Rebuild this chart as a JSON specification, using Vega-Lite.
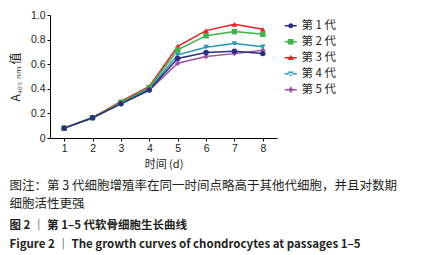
{
  "$schema": "https://vega.github.io/schema/vega-lite/v6.json",
  "autosize": {"type": "none"},
  "width": 227,
  "height": 123,
  "padding": {"left": 50, "top": 15, "right": 151, "bottom": 117},
  "background": "white",
  "config": {
    "view": {"stroke": null},
    "font": "Noto Sans CJK SC",
    "legend": {
      "title": null,
      "orient": "right",
      "offset": 3,
      "padding": 5,
      "symbolSize": 100,
      "symbolOpacity": 1,
      "symbolStrokeWidth": 0,
      "labelFont": "Noto Sans CJK SC",
      "labelFontSize": 11.5,
      "labelColor": "#231f20",
      "labelOffset": 5,
      "rowPadding": 3
    }
  },
  "title": {
    "text": ["图注：第 3 代细胞增殖率在同一时间点略高于其他代细胞，并且对数期", "细胞活性更强"],
    "subtitle": ["图 2 ｜ 第 1–5 代软骨细胞生长曲线", "Figure 2 ｜ The growth curves of chondrocytes at passages 1–5"],
    "orient": "bottom",
    "anchor": "start",
    "frame": "bounds",
    "offset": 10,
    "font": "Noto Sans CJK SC",
    "fontSize": 12.5,
    "fontWeight": "normal",
    "color": "#231f20",
    "lineHeight": 18,
    "subtitleFont": "Noto Sans CJK SC",
    "subtitleFontSize": 11.5,
    "subtitleFontWeight": "bold",
    "subtitleColor": "#231f20",
    "subtitleLineHeight": 19,
    "subtitlePadding": 10
  },
  "data": {
    "values": [
      {"gen": "第 5 代", "day": 1, "value": 0.08},
      {"gen": "第 5 代", "day": 2, "value": 0.165},
      {"gen": "第 5 代", "day": 3, "value": 0.28},
      {"gen": "第 5 代", "day": 4, "value": 0.39},
      {"gen": "第 5 代", "day": 5, "value": 0.608},
      {"gen": "第 5 代", "day": 6, "value": 0.662},
      {"gen": "第 5 代", "day": 7, "value": 0.686},
      {"gen": "第 5 代", "day": 8, "value": 0.714},
      {"gen": "第 4 代", "day": 1, "value": 0.08},
      {"gen": "第 4 代", "day": 2, "value": 0.165},
      {"gen": "第 4 代", "day": 3, "value": 0.285},
      {"gen": "第 4 代", "day": 4, "value": 0.4},
      {"gen": "第 4 代", "day": 5, "value": 0.676},
      {"gen": "第 4 代", "day": 6, "value": 0.738},
      {"gen": "第 4 代", "day": 7, "value": 0.768},
      {"gen": "第 4 代", "day": 8, "value": 0.741},
      {"gen": "第 3 代", "day": 1, "value": 0.08},
      {"gen": "第 3 代", "day": 2, "value": 0.165},
      {"gen": "第 3 代", "day": 3, "value": 0.297},
      {"gen": "第 3 代", "day": 4, "value": 0.42},
      {"gen": "第 3 代", "day": 5, "value": 0.746},
      {"gen": "第 3 代", "day": 6, "value": 0.873},
      {"gen": "第 3 代", "day": 7, "value": 0.924},
      {"gen": "第 3 代", "day": 8, "value": 0.884},
      {"gen": "第 2 代", "day": 1, "value": 0.08},
      {"gen": "第 2 代", "day": 2, "value": 0.165},
      {"gen": "第 2 代", "day": 3, "value": 0.29},
      {"gen": "第 2 代", "day": 4, "value": 0.41},
      {"gen": "第 2 代", "day": 5, "value": 0.716},
      {"gen": "第 2 代", "day": 6, "value": 0.832},
      {"gen": "第 2 代", "day": 7, "value": 0.865},
      {"gen": "第 2 代", "day": 8, "value": 0.843},
      {"gen": "第 1 代", "day": 1, "value": 0.08},
      {"gen": "第 1 代", "day": 2, "value": 0.165},
      {"gen": "第 1 代", "day": 3, "value": 0.278},
      {"gen": "第 1 代", "day": 4, "value": 0.39},
      {"gen": "第 1 代", "day": 5, "value": 0.646},
      {"gen": "第 1 代", "day": 6, "value": 0.695},
      {"gen": "第 1 代", "day": 7, "value": 0.705},
      {"gen": "第 1 代", "day": 8, "value": 0.686}
    ]
  },
  "encoding": {
    "x": {
      "field": "day", "type": "quantitative",
      "scale": {"domain": [0.5, 8.5], "nice": false, "zero": false},
      "axis": {
        "values": [1, 2, 3, 4, 5, 6, 7, 8],
        "title": "时间 (d)",
        "grid": false,
        "domainColor": "#000", "domainWidth": 1,
        "tickColor": "#000", "tickSize": 3,
        "labelFont": "Liberation Sans", "labelFontSize": 10.5, "labelColor": "#231f20", "labelPadding": 2,
        "titleFont": "Noto Sans CJK SC", "titleFontSize": 11, "titleFontWeight": "normal", "titleColor": "#231f20", "titlePadding": 5
      }
    },
    "y": {
      "field": "value", "type": "quantitative",
      "scale": {"domain": [0, 1], "nice": false},
      "axis": {
        "values": [0, 0.2, 0.4, 0.6, 0.8, 1.0],
        "labelExpr": "datum.value == 0 ? '0' : format(datum.value, '.1f')",
        "title": "A₄₀₅ ₙₘ 值",
        "grid": false,
        "domainColor": "#000", "domainWidth": 1,
        "tickColor": "#000", "tickSize": 3,
        "labelFont": "Liberation Sans", "labelFontSize": 10.5, "labelColor": "#231f20", "labelPadding": 2,
        "titleFont": "Noto Sans CJK SC", "titleFontSize": 12, "titleFontWeight": "normal", "titleColor": "#231f20", "titlePadding": 8
      }
    },
    "color": {
      "field": "gen", "type": "nominal",
      "scale": {
        "domain": ["第 1 代", "第 2 代", "第 3 代", "第 4 代", "第 5 代"],
        "range": ["#2b2e83", "#3cb44a", "#ed1c24", "#2596b8", "#9d4fa3"]
      }
    }
  },
  "layer": [
    {
      "mark": {"type": "line", "strokeWidth": 1.5}
    },
    {
      "transform": [{"filter": "datum.gen == '第 5 代'"}],
      "mark": {"type": "point", "filled": true, "opacity": 1, "size": 30, "shape": "diamond"}
    },
    {
      "transform": [{"filter": "datum.gen == '第 4 代'"}],
      "mark": {"type": "point", "filled": true, "opacity": 1, "size": 30, "shape": "triangle-down"}
    },
    {
      "transform": [{"filter": "datum.gen == '第 3 代'"}],
      "mark": {"type": "point", "filled": true, "opacity": 1, "size": 30, "shape": "triangle-up"}
    },
    {
      "transform": [{"filter": "datum.gen == '第 2 代'"}],
      "mark": {"type": "point", "filled": true, "opacity": 1, "size": 30, "shape": "square"}
    },
    {
      "transform": [{"filter": "datum.gen == '第 1 代'"}],
      "mark": {"type": "point", "filled": true, "opacity": 1, "size": 30, "shape": "circle"}
    },
    {
      "mark": {"type": "point", "filled": true, "opacity": 0, "size": 100},
      "encoding": {
        "shape": {
          "field": "gen", "type": "nominal",
          "scale": {
            "domain": ["第 1 代", "第 2 代", "第 3 代", "第 4 代", "第 5 代"],
            "range": [
              "M-1.2,-0.13H1.2V0.13H-1.2ZM0.5,0A0.5,0.5,0,1,1,-0.5,0A0.5,0.5,0,1,1,0.5,0Z",
              "M-1.2,-0.13H1.2V0.13H-1.2ZM-0.55,-0.55H0.55V0.55H-0.55Z",
              "M-1.2,-0.13H1.2V0.13H-1.2ZM0,-0.6L0.6,0.45H-0.6Z",
              "M-1.2,-0.13H1.2V0.13H-1.2ZM0,0.6L0.6,-0.45H-0.6Z",
              "M-1.2,-0.13H1.2V0.13H-1.2ZM0,-0.65L0.5,0L0,0.65L-0.5,0Z"
            ]
          }
        }
      }
    }
  ]
}
